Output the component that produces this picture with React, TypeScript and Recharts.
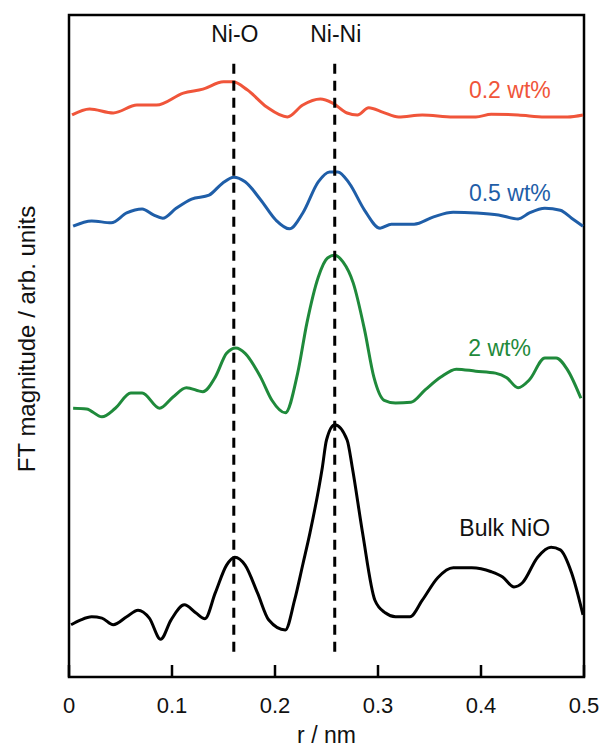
import { LineChart, Line, XAxis, YAxis, ReferenceLine, ReferenceArea, ReferenceDot } from 'recharts';

// r / nm positions and FT magnitude (arb. units, offset traces)
const red02 = [
  { r: 0.003, v: 8.49 }, { r: 0.02, v: 8.58 }, { r: 0.043, v: 8.52 }, { r: 0.066, v: 8.64 },
  { r: 0.085, v: 8.64 }, { r: 0.111, v: 8.82 }, { r: 0.13, v: 8.88 }, { r: 0.15, v: 8.99 },
  { r: 0.159, v: 8.99 }, { r: 0.173, v: 8.87 }, { r: 0.192, v: 8.61 }, { r: 0.212, v: 8.46 },
  { r: 0.227, v: 8.64 }, { r: 0.244, v: 8.73 }, { r: 0.256, v: 8.67 }, { r: 0.27, v: 8.52 },
  { r: 0.28, v: 8.49 }, { r: 0.291, v: 8.6 }, { r: 0.305, v: 8.53 }, { r: 0.32, v: 8.46 },
  { r: 0.343, v: 8.49 }, { r: 0.373, v: 8.46 }, { r: 0.395, v: 8.46 }, { r: 0.41, v: 8.5 },
  { r: 0.436, v: 8.49 }, { r: 0.462, v: 8.46 }, { r: 0.484, v: 8.46 }, { r: 0.499, v: 8.49 },
];

const blue05 = [
  { r: 0.004, v: 6.81 }, { r: 0.022, v: 6.89 }, { r: 0.041, v: 6.86 }, { r: 0.056, v: 7.01 },
  { r: 0.071, v: 7.07 }, { r: 0.082, v: 6.98 }, { r: 0.091, v: 6.93 }, { r: 0.104, v: 7.08 },
  { r: 0.119, v: 7.22 }, { r: 0.136, v: 7.28 }, { r: 0.149, v: 7.46 }, { r: 0.16, v: 7.55 },
  { r: 0.171, v: 7.48 }, { r: 0.186, v: 7.21 }, { r: 0.201, v: 6.9 }, { r: 0.214, v: 6.77 },
  { r: 0.227, v: 7.01 }, { r: 0.242, v: 7.48 }, { r: 0.253, v: 7.63 }, { r: 0.261, v: 7.63 },
  { r: 0.272, v: 7.46 }, { r: 0.287, v: 7.05 }, { r: 0.302, v: 6.78 }, { r: 0.313, v: 6.84 },
  { r: 0.335, v: 6.84 }, { r: 0.354, v: 6.95 }, { r: 0.373, v: 7.02 }, { r: 0.395, v: 7.01 },
  { r: 0.417, v: 6.98 }, { r: 0.436, v: 6.92 }, { r: 0.447, v: 7.01 }, { r: 0.462, v: 7.08 },
  { r: 0.477, v: 7.05 }, { r: 0.488, v: 6.93 }, { r: 0.499, v: 6.81 },
];

const green2 = [
  { r: 0.004, v: 4.06 }, { r: 0.017, v: 4.05 }, { r: 0.032, v: 3.93 }, { r: 0.045, v: 4.06 },
  { r: 0.06, v: 4.29 }, { r: 0.071, v: 4.29 }, { r: 0.088, v: 4.06 }, { r: 0.101, v: 4.23 },
  { r: 0.114, v: 4.37 }, { r: 0.13, v: 4.31 }, { r: 0.142, v: 4.53 }, { r: 0.153, v: 4.89 },
  { r: 0.162, v: 4.97 }, { r: 0.171, v: 4.89 }, { r: 0.186, v: 4.53 }, { r: 0.197, v: 4.18 },
  { r: 0.21, v: 3.99 }, { r: 0.222, v: 4.59 }, { r: 0.231, v: 5.35 }, { r: 0.242, v: 6.04 },
  { r: 0.251, v: 6.33 }, { r: 0.258, v: 6.37 }, { r: 0.266, v: 6.27 }, { r: 0.276, v: 5.95 },
  { r: 0.287, v: 5.24 }, { r: 0.296, v: 4.53 }, { r: 0.306, v: 4.18 }, { r: 0.317, v: 4.14 },
  { r: 0.332, v: 4.15 }, { r: 0.346, v: 4.34 }, { r: 0.361, v: 4.53 }, { r: 0.376, v: 4.65 },
  { r: 0.395, v: 4.62 }, { r: 0.414, v: 4.59 }, { r: 0.425, v: 4.52 }, { r: 0.436, v: 4.37 },
  { r: 0.447, v: 4.49 }, { r: 0.462, v: 4.82 }, { r: 0.473, v: 4.82 }, { r: 0.484, v: 4.64 },
  { r: 0.497, v: 4.21 },
];

const bulkNiO = [
  { r: 0.002, v: 0.79 }, { r: 0.011, v: 0.86 }, { r: 0.022, v: 0.91 }, { r: 0.032, v: 0.89 },
  { r: 0.043, v: 0.79 }, { r: 0.056, v: 0.91 }, { r: 0.067, v: 1.01 }, { r: 0.078, v: 0.89 },
  { r: 0.089, v: 0.57 }, { r: 0.099, v: 0.86 }, { r: 0.112, v: 1.09 }, { r: 0.123, v: 0.97 },
  { r: 0.132, v: 0.88 }, { r: 0.142, v: 1.27 }, { r: 0.153, v: 1.69 }, { r: 0.161, v: 1.81 },
  { r: 0.171, v: 1.69 }, { r: 0.183, v: 1.27 }, { r: 0.194, v: 0.86 }, { r: 0.21, v: 0.71 },
  { r: 0.219, v: 1.16 }, { r: 0.227, v: 1.7 }, { r: 0.234, v: 2.18 }, { r: 0.246, v: 3.17 },
  { r: 0.25, v: 3.58 }, { r: 0.258, v: 3.81 }, { r: 0.27, v: 3.58 }, { r: 0.275, v: 3.17 },
  { r: 0.285, v: 2.18 }, { r: 0.297, v: 1.16 }, { r: 0.307, v: 0.97 }, { r: 0.317, v: 0.91 },
  { r: 0.331, v: 0.91 }, { r: 0.343, v: 1.16 }, { r: 0.358, v: 1.5 }, { r: 0.373, v: 1.65 },
  { r: 0.391, v: 1.65 }, { r: 0.41, v: 1.59 }, { r: 0.421, v: 1.51 }, { r: 0.432, v: 1.36 },
  { r: 0.44, v: 1.42 }, { r: 0.455, v: 1.81 }, { r: 0.468, v: 1.96 }, { r: 0.477, v: 1.92 },
  { r: 0.488, v: 1.57 }, { r: 0.499, v: 0.94 },
];

const xTicks = [0, 0.1, 0.2, 0.3, 0.4, 0.5];
const bondPositions = [
  { name: 'Ni-O', r: 0.16 },
  { name: 'Ni-Ni', r: 0.258 },
];
const seriesLabels = [
  { text: '0.2 wt%', r: 0.428, v: 8.87, color: '#f0553a' },
  { text: '0.5 wt%', r: 0.428, v: 7.31, color: '#1f5ea8' },
  { text: '2 wt%', r: 0.418, v: 4.97, color: '#1f8a3b' },
  { text: 'Bulk NiO', r: 0.423, v: 2.25, color: '#111' },
];

const FONT = '"Liberation Sans", Arial, Helvetica, sans-serif';

const renderTick = (props: any) => {
  const { x, y, payload } = props;
  return (
    <g>
      <line x1={x} y1={y} x2={x} y2={y - 12} stroke="#000" strokeWidth={2.5} />
      <text x={x} y={y + 36} textAnchor="middle" fontSize={22} fill="#111" fontFamily={FONT}>
        {payload.value === 0 ? '0' : payload.value}
      </text>
    </g>
  );
};

const renderYLabel = (props: any) => {
  const vb = props.viewBox;
  const cx = vb.x + 35;
  const cy = vb.y + vb.height / 2 - 7;
  return (
    <text x={cx} y={cy} transform={`rotate(-90 ${cx} ${cy})`} textAnchor="middle" fontSize={24} fill="#111" fontFamily={FONT}>
      FT magnitude / arb. units
    </text>
  );
};

export default function App() {
  return (
    <div style={{ position: 'absolute', left: 0, top: 0, background: '#fff' }}>
      <LineChart width={603} height={747} margin={{ top: 15, right: 19, left: 0, bottom: 0 }}>
        <XAxis
          dataKey="r"
          type="number"
          domain={[0, 0.5]}
          ticks={xTicks}
          allowDataOverflow
          height={70}
          axisLine={false}
          tickLine={false}
          tickSize={0}
          tickMargin={0}
          tick={renderTick}
          label={{ value: 'r / nm', position: 'insideBottom', offset: 4, fontSize: 23, fill: '#111', fontFamily: FONT }}
        />
        <YAxis
          type="number"
          domain={[0, 10]}
          allowDataOverflow
          width={69}
          axisLine={false}
          tickLine={false}
          tick={false}
          label={{ content: renderYLabel }}
        />
        <ReferenceArea x1={0} x2={0.5} y1={0} y2={10} fill="none" stroke="#000" strokeWidth={2.5} strokeOpacity={1} fillOpacity={0} />
        <Line data={red02} dataKey="v" type="monotone" stroke="#f0553a" strokeWidth={3} dot={false} isAnimationActive={false} />
        <Line data={blue05} dataKey="v" type="monotone" stroke="#1f5ea8" strokeWidth={3} dot={false} isAnimationActive={false} />
        <Line data={green2} dataKey="v" type="monotone" stroke="#1f8a3b" strokeWidth={3} dot={false} isAnimationActive={false} />
        <Line data={bulkNiO} dataKey="v" type="monotone" stroke="#000" strokeWidth={3} dot={false} isAnimationActive={false} />
        {bondPositions.map((b) => (
          <ReferenceLine
            key={b.name}
            segment={[{ x: b.r, y: 0.38 }, { x: b.r, y: 9.37 }]}
            stroke="#000"
            strokeWidth={3}
            strokeDasharray="10 7"
          />
        ))}
        {bondPositions.map((b) => (
          <ReferenceDot
            key={'lbl' + b.name}
            x={b.r + 0.001}
            y={9.72}
            r={0}
            fill="none"
            stroke="none"
            label={{ value: b.name, position: 'center', fontSize: 23, fill: '#111', fontFamily: FONT }}
          />
        ))}
        {seriesLabels.map((s) => (
          <ReferenceDot
            key={s.text}
            x={s.r}
            y={s.v}
            r={0}
            fill="none"
            stroke="none"
            label={{ value: s.text, position: 'center', fontSize: 23, fill: s.color, fontFamily: FONT }}
          />
        ))}
      </LineChart>
    </div>
  );
}
